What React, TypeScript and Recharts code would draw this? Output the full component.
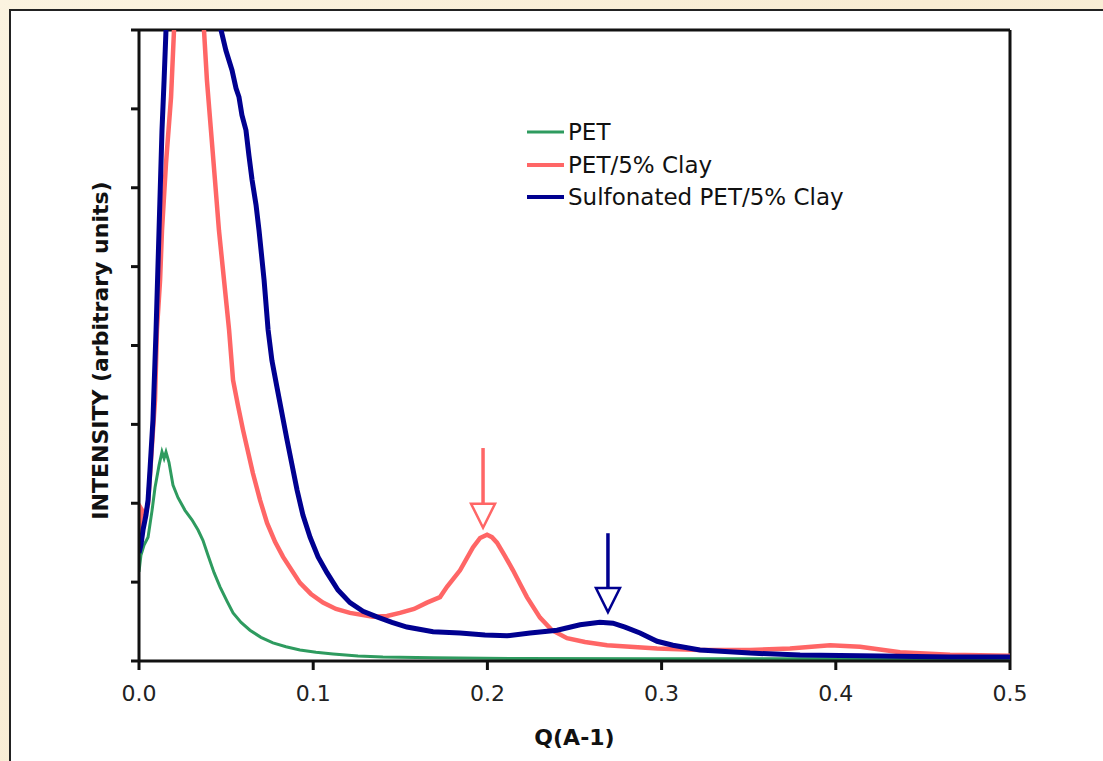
import { LineChart, Line, XAxis, YAxis, ReferenceLine, ReferenceDot } from "recharts";

// Q (A^-1) vs intensity (arbitrary units, axis runs 0..8)
const pet: [number, number][] = [
    [0, 1.13], [0.0011, 1.34], [0.0029, 1.47], [0.0052, 1.57], [0.0075, 1.91],
    [0.0092, 2.2], [0.0115, 2.48], [0.0132, 2.65], [0.0144, 2.57], [0.0155, 2.65],
    [0.0172, 2.52], [0.0195, 2.23], [0.0224, 2.07], [0.0264, 1.91], [0.0304, 1.79],
    [0.0339, 1.66], [0.0367, 1.53], [0.0396, 1.34], [0.0431, 1.12], [0.0465, 0.94],
    [0.0505, 0.76], [0.054, 0.61], [0.0586, 0.49], [0.0637, 0.39], [0.07, 0.3],
    [0.0769, 0.23], [0.0844, 0.18], [0.0924, 0.14], [0.1016, 0.11], [0.1114, 0.09],
    [0.1257, 0.063], [0.14, 0.05], [0.1688, 0.04], [0.2187, 0.032], [0.293, 0.03],
    [0.38, 0.028], [0.5, 0.025],
];

const petClay: [number, number][] = [
    [0, 1.6], [0.0015, 1.92], [0.0035, 1.85], [0.0052, 1.99], [0.0069, 2.55],
    [0.0092, 3.31], [0.0103, 4.2], [0.0121, 4.83], [0.0132, 5.46], [0.0155, 6.31],
    [0.0184, 7.15], [0.0201, 8.0], [0.026, 9.6], [0.031, 9.9], [0.0373, 8.0],
    [0.039, 7.36], [0.0413, 6.73], [0.0436, 6.1], [0.0459, 5.46], [0.0488, 4.83],
    [0.0517, 4.2], [0.054, 3.56], [0.0568, 3.24], [0.0597, 2.93], [0.0654, 2.38],
    [0.0695, 2.04], [0.0735, 1.75], [0.0781, 1.51], [0.0827, 1.32], [0.0924, 0.99],
    [0.0987, 0.85], [0.1056, 0.74], [0.1131, 0.66], [0.1211, 0.61], [0.1343, 0.56],
    [0.1424, 0.57], [0.1498, 0.61], [0.1579, 0.66], [0.1653, 0.74], [0.1728, 0.81],
    [0.1768, 0.94], [0.1843, 1.15], [0.1917, 1.44], [0.1958, 1.56], [0.1998, 1.6],
    [0.2026, 1.57], [0.2055, 1.5], [0.2101, 1.33], [0.2147, 1.15], [0.2187, 0.98],
    [0.2227, 0.81], [0.2302, 0.55], [0.2371, 0.39], [0.2457, 0.29], [0.256, 0.24],
    [0.2687, 0.2], [0.2974, 0.16], [0.322, 0.14], [0.3508, 0.14], [0.3737, 0.16],
    [0.3967, 0.2], [0.4139, 0.18], [0.4369, 0.11], [0.4656, 0.08], [0.5, 0.065],
];

const sulfonated: [number, number][] = [
    [0, 1.37], [0.0011, 1.47], [0.0023, 1.66], [0.004, 1.85], [0.0052, 2.04],
    [0.0063, 2.42], [0.008, 3.05], [0.0098, 4.2], [0.0115, 5.46], [0.0132, 6.73],
    [0.0144, 7.36], [0.0155, 8.0], [0.022, 10.5], [0.032, 11], [0.041, 9.6],
    [0.0471, 8.0], [0.0499, 7.74], [0.0534, 7.49], [0.0557, 7.26], [0.0574, 7.15],
    [0.0591, 6.92], [0.0614, 6.73], [0.0631, 6.41], [0.0649, 6.1], [0.0672, 5.78],
    [0.0689, 5.46], [0.0718, 4.83], [0.0741, 4.2], [0.0763, 3.81], [0.0792, 3.47],
    [0.085, 2.8], [0.0907, 2.17], [0.0941, 1.85], [0.0982, 1.57], [0.1028, 1.32],
    [0.1079, 1.12], [0.1142, 0.9], [0.1211, 0.74], [0.1286, 0.63], [0.1366, 0.56],
    [0.1452, 0.49], [0.1538, 0.43], [0.1688, 0.37], [0.1843, 0.355], [0.1986, 0.33],
    [0.2113, 0.32], [0.2245, 0.355], [0.24, 0.39], [0.2532, 0.46], [0.2646, 0.49],
    [0.2721, 0.48], [0.279, 0.43], [0.2876, 0.355], [0.2974, 0.25], [0.3065, 0.2],
    [0.322, 0.14], [0.3508, 0.1], [0.3795, 0.076], [0.4254, 0.063], [0.4656, 0.05],
    [0.5, 0.05],
];

const xTicks = [0, 0.1, 0.2, 0.3, 0.4, 0.5];
const yTicks = [0, 1, 2, 3, 4, 5, 6, 7, 8];

// peak markers: q, top of stem, base of head, tip of head
const arrows = [
    { q: 0.1975, top: 2.7, base: 2.0, tip: 1.69, color: "#ff6666" },
    { q: 0.2692, top: 1.62, base: 0.93, tip: 0.62, color: "#000090" },
];

const series = [
    { name: "PET", data: pet, color: "#2e9b5f", width: 3 },
    { name: "PET/5% Clay", data: petClay, color: "#ff6666", width: 4.5 },
    { name: "Sulfonated PET/5% Clay", data: sulfonated, color: "#000090", width: 5 },
];

const FONT = "'DejaVu Sans', Verdana, sans-serif";

function NoTick() {
    return <g />;
}

function YLabel(props: any) {
    const vb = props.viewBox || { x: 79, y: 30, width: 60, height: 631 };
    const cx = vb.x + 21;
    const cy = vb.y + vb.height / 2 + 5;
    return (
        <text x={cx} y={cy} transform={`rotate(-90 ${cx} ${cy})`} textAnchor="middle"
            dominantBaseline="central" fontFamily={FONT} fontSize={22} fontWeight="bold" fill="#111">
            INTENSITY (arbitrary units)
        </text>
    );
}

function XLabel(props: any) {
    const vb = props.viewBox || { x: 139, y: 661, width: 871, height: 60 };
    return (
        <text x={vb.x + vb.width / 2} y={737} textAnchor="middle" dominantBaseline="central"
            fontFamily={FONT} fontSize={22} fontWeight="bold" fill="#111">
            Q(A-1)
        </text>
    );
}

function LegendBox() {
    return (
        <div style={{ position: "absolute", left: 527, top: 116, fontFamily: FONT, fontSize: 23, color: "#111" }}>
            {series.map((s) => (
                <div key={s.name} style={{ display: "flex", alignItems: "center", height: 32.5 }}>
                    <svg width={38} height={10} style={{ marginRight: 3 }}>
                        <line x1={0} y1={5} x2={37} y2={5} stroke={s.color} strokeWidth={s.width > 4 ? 4 : 3} />
                    </svg>
                    <span style={{ whiteSpace: "nowrap" }}>{s.name}</span>
                </div>
            ))}
        </div>
    );
}

export default function App() {
    return (
        <div style={{
            position: "absolute", left: 0, top: 0, width: 1103, height: 761, overflow: "hidden",
            background: "linear-gradient(135deg, #fbf3e0 0%, #f8ecd3 50%, #fbf2de 100%)",
        }}>
            <div style={{
                position: "absolute", left: 9, top: 9, width: 1200, height: 900,
                background: "#fff", borderLeft: "2px solid #222", borderTop: "2px solid #222",
            }} />
            <div style={{ position: "absolute", left: 0, top: 0 }}>
                <LineChart width={1103} height={761} margin={{ top: 30, right: 93, bottom: 0, left: 79 }}>
                    <XAxis type="number" dataKey="q" domain={[0, 0.5]} ticks={xTicks}
                        tickFormatter={(v: number) => v.toFixed(1)} allowDataOverflow
                        height={100} tickSize={9} tickMargin={15}
                        axisLine={{ stroke: "#111", strokeWidth: 3 }}
                        tickLine={{ stroke: "#111", strokeWidth: 3 }}
                        tick={{ fontFamily: FONT, fontSize: 22, fill: "#222" }}
                        label={<XLabel />} />
                    <YAxis type="number" domain={[0, 8]} ticks={yTicks} allowDataOverflow
                        width={60} tickSize={8} tick={<NoTick />}
                        axisLine={{ stroke: "#111", strokeWidth: 3 }}
                        tickLine={{ stroke: "#111", strokeWidth: 3 }}
                        label={<YLabel />} />
                    <ReferenceLine y={8} stroke="#111" strokeWidth={3} />
                    <ReferenceLine x={0.5} stroke="#111" strokeWidth={3} />
                    {series.map((s) => (
                        <Line key={s.name} name={s.name} data={s.data.map(([q, v]) => ({ q, v }))}
                            dataKey="v" type="linear" stroke={s.color} strokeWidth={s.width}
                            dot={false} activeDot={false} isAnimationActive={false} />
                    ))}
                    {arrows.map((a) => (
                        <ReferenceLine key={`stem-${a.q}`} segment={[{ x: a.q, y: a.top }, { x: a.q, y: a.base }]}
                            stroke={a.color} strokeWidth={3.5} />
                    ))}
                    {arrows.map((a) => (
                        <ReferenceDot key={`head-${a.q}`} x={a.q} y={a.tip}
                            shape={(p: any) => (
                                <polygon
                                    points={`${p.cx},${p.cy} ${p.cx - 12},${p.cy - 24} ${p.cx + 12},${p.cy - 24}`}
                                    fill="#fff" stroke={a.color} strokeWidth={2.5} strokeLinejoin="miter" />
                            )} />
                    ))}
                </LineChart>
            </div>
            <LegendBox />
        </div>
    );
}
